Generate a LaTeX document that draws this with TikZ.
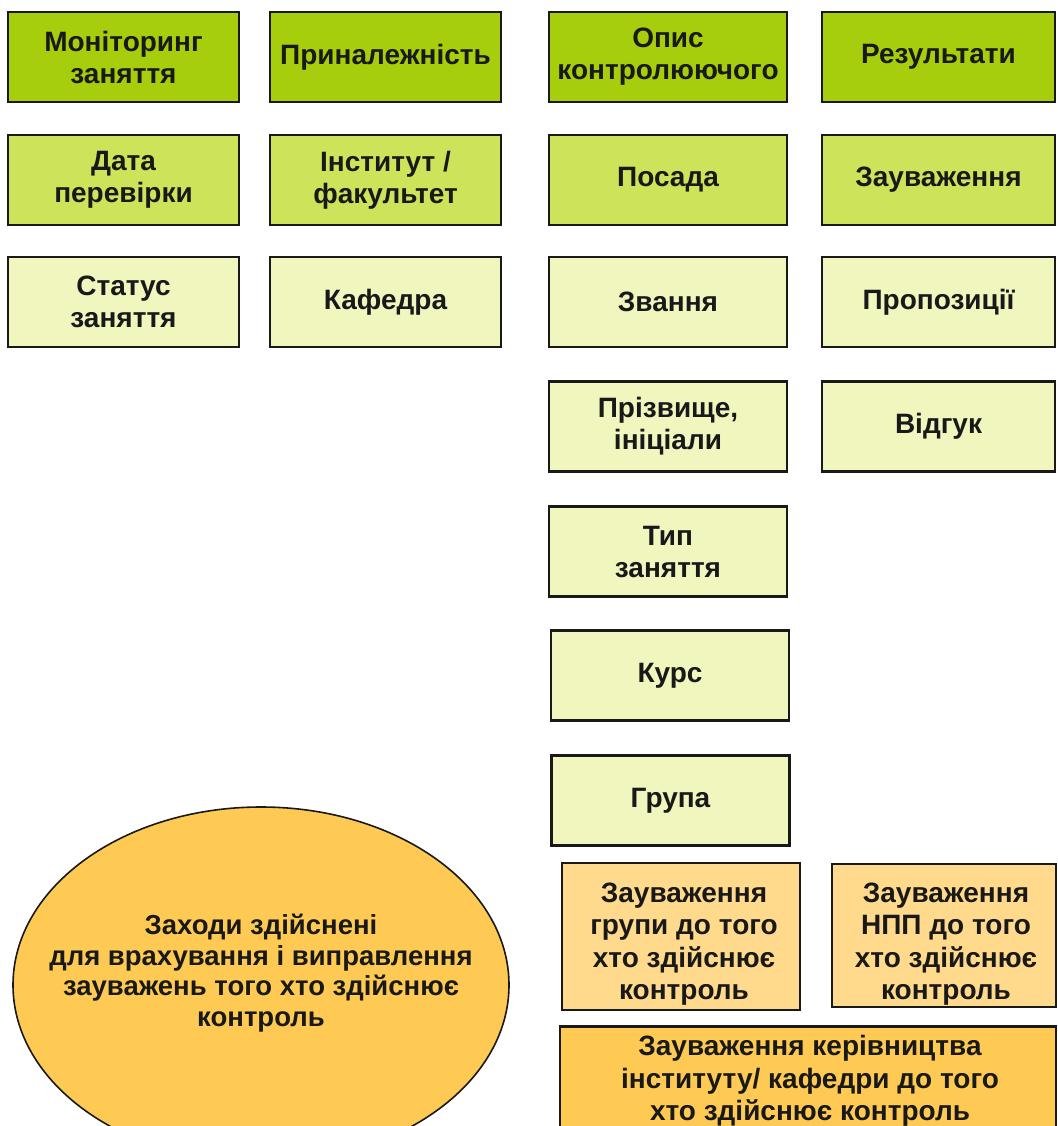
\documentclass[tikz,border=0pt]{standalone}
\usepackage{fontspec}
\setmainfont{Liberation Sans}
\usetikzlibrary{shapes.geometric}
\definecolor{gA}{RGB}{166,206,12}
\definecolor{gB}{RGB}{205,227,90}
\definecolor{gC}{RGB}{240,246,190}
\definecolor{oA}{RGB}{255,217,140}
\definecolor{oB}{RGB}{254,202,84}
\definecolor{ink}{RGB}{25,25,25}
\tikzset{
  box/.style={draw=ink, line width=2.6pt, rectangle, align=center, inner sep=0pt,
    font=\fontsize{28}{32}\selectfont\bfseries, text=ink},
  wA/.style={minimum width=231pt, minimum height=90pt},
  wB/.style={minimum width=238pt, minimum height=90pt},
  wD/.style={minimum width=233pt, minimum height=90pt},
  lbl/.style={font=\fontsize{28}{32.5}\selectfont\bfseries, text=ink, align=center},
}
\begin{document}
\begin{tikzpicture}[x=1pt,y=-1pt]
\useasboundingbox (0,0) rectangle (1057,1126);
\clip (0,0) rectangle (1057,1126);
\fill[white] (0,0) rectangle (1057,1126);
% column 1
\node[box,wA,fill=gA] (mon) at (123.5,57) {Моніторинг\\заняття};
\node[box,wA,fill=gB] (data) at (123.5,180) {Дата\\перевірки};
\node[box,wA,fill=gC] (stat) at (123.5,302) {Статус\\заняття};
% column 2
\node[box,wA,fill=gA] (pryn) at (385.5,57) {Приналежність};
\node[box,wA,fill=gB] (inst) at (385.5,180) {Інститут /\\факультет};
\node[box,wA,fill=gC] (kaf) at (385.5,302) {Кафедра};
% column 3
\node[box,wB,fill=gA] (opys) at (668,57) {Опис\\контролюючого};
\node[box,wB,fill=gB] (posada) at (668,180) {Посада};
\node[box,wB,fill=gC] (zvan) at (668,302) {Звання};
\node[box,wB,fill=gC] (priz) at (668,426.5) {Прізвище,\\ініціали};
\node[box,wB,fill=gC] (typ) at (668,551.5) {Тип\\заняття};
\node[box,wB,fill=gC] (kurs) at (670,675.5) {Курс};
\node[box,wB,fill=gC] (grupa) at (670.5,800.5) {Група};
% column 4
\node[box,wD,fill=gA] (rez) at (938.5,57) {Результати};
\node[box,wD,fill=gB] (zauv) at (938.5,180) {Зауваження};
\node[box,wD,fill=gC] (prop) at (938.5,302) {Пропозиції};
\node[box,wD,fill=gC] (vidg) at (938.5,426.5) {Відгук};
% orange boxes
\node[box,fill=oA,minimum width=238pt,minimum height=147pt] (zgr) at (681,936.5) {};
\node[lbl] (zgrt) at (684,944) {Зауваження\\групи до того\\хто здійснює\\контроль};
\node[box,fill=oA,minimum width=224pt,minimum height=143pt] (znpp) at (944,935.5) {};
\node[lbl] (znppt) at (946,944) {Зауваження\\НПП до того\\хто здійснює\\контроль};
\node[box,fill=oB,minimum width=496pt,minimum height=110pt,anchor=north] (zker) at (808,1025) {};
\node[lbl] (zkert) at (810,1081)
  {Зауваження керівництва\\інституту/ кафедри до того\\хто здійснює контроль};
% ellipse
\node[draw=ink, line width=1.6pt, fill=oB, ellipse, minimum width=496pt, minimum height=356pt,
  inner sep=0pt] (zah) at (261,985) {};
\node[font=\fontsize{27.5}{30.5}\selectfont\bfseries, text=ink, align=center] (zaht) at (261,973)
  {Заходи здійснені\\для врахування і виправлення\\зауважень того хто здійснює\\контроль};
\end{tikzpicture}
\end{document}
